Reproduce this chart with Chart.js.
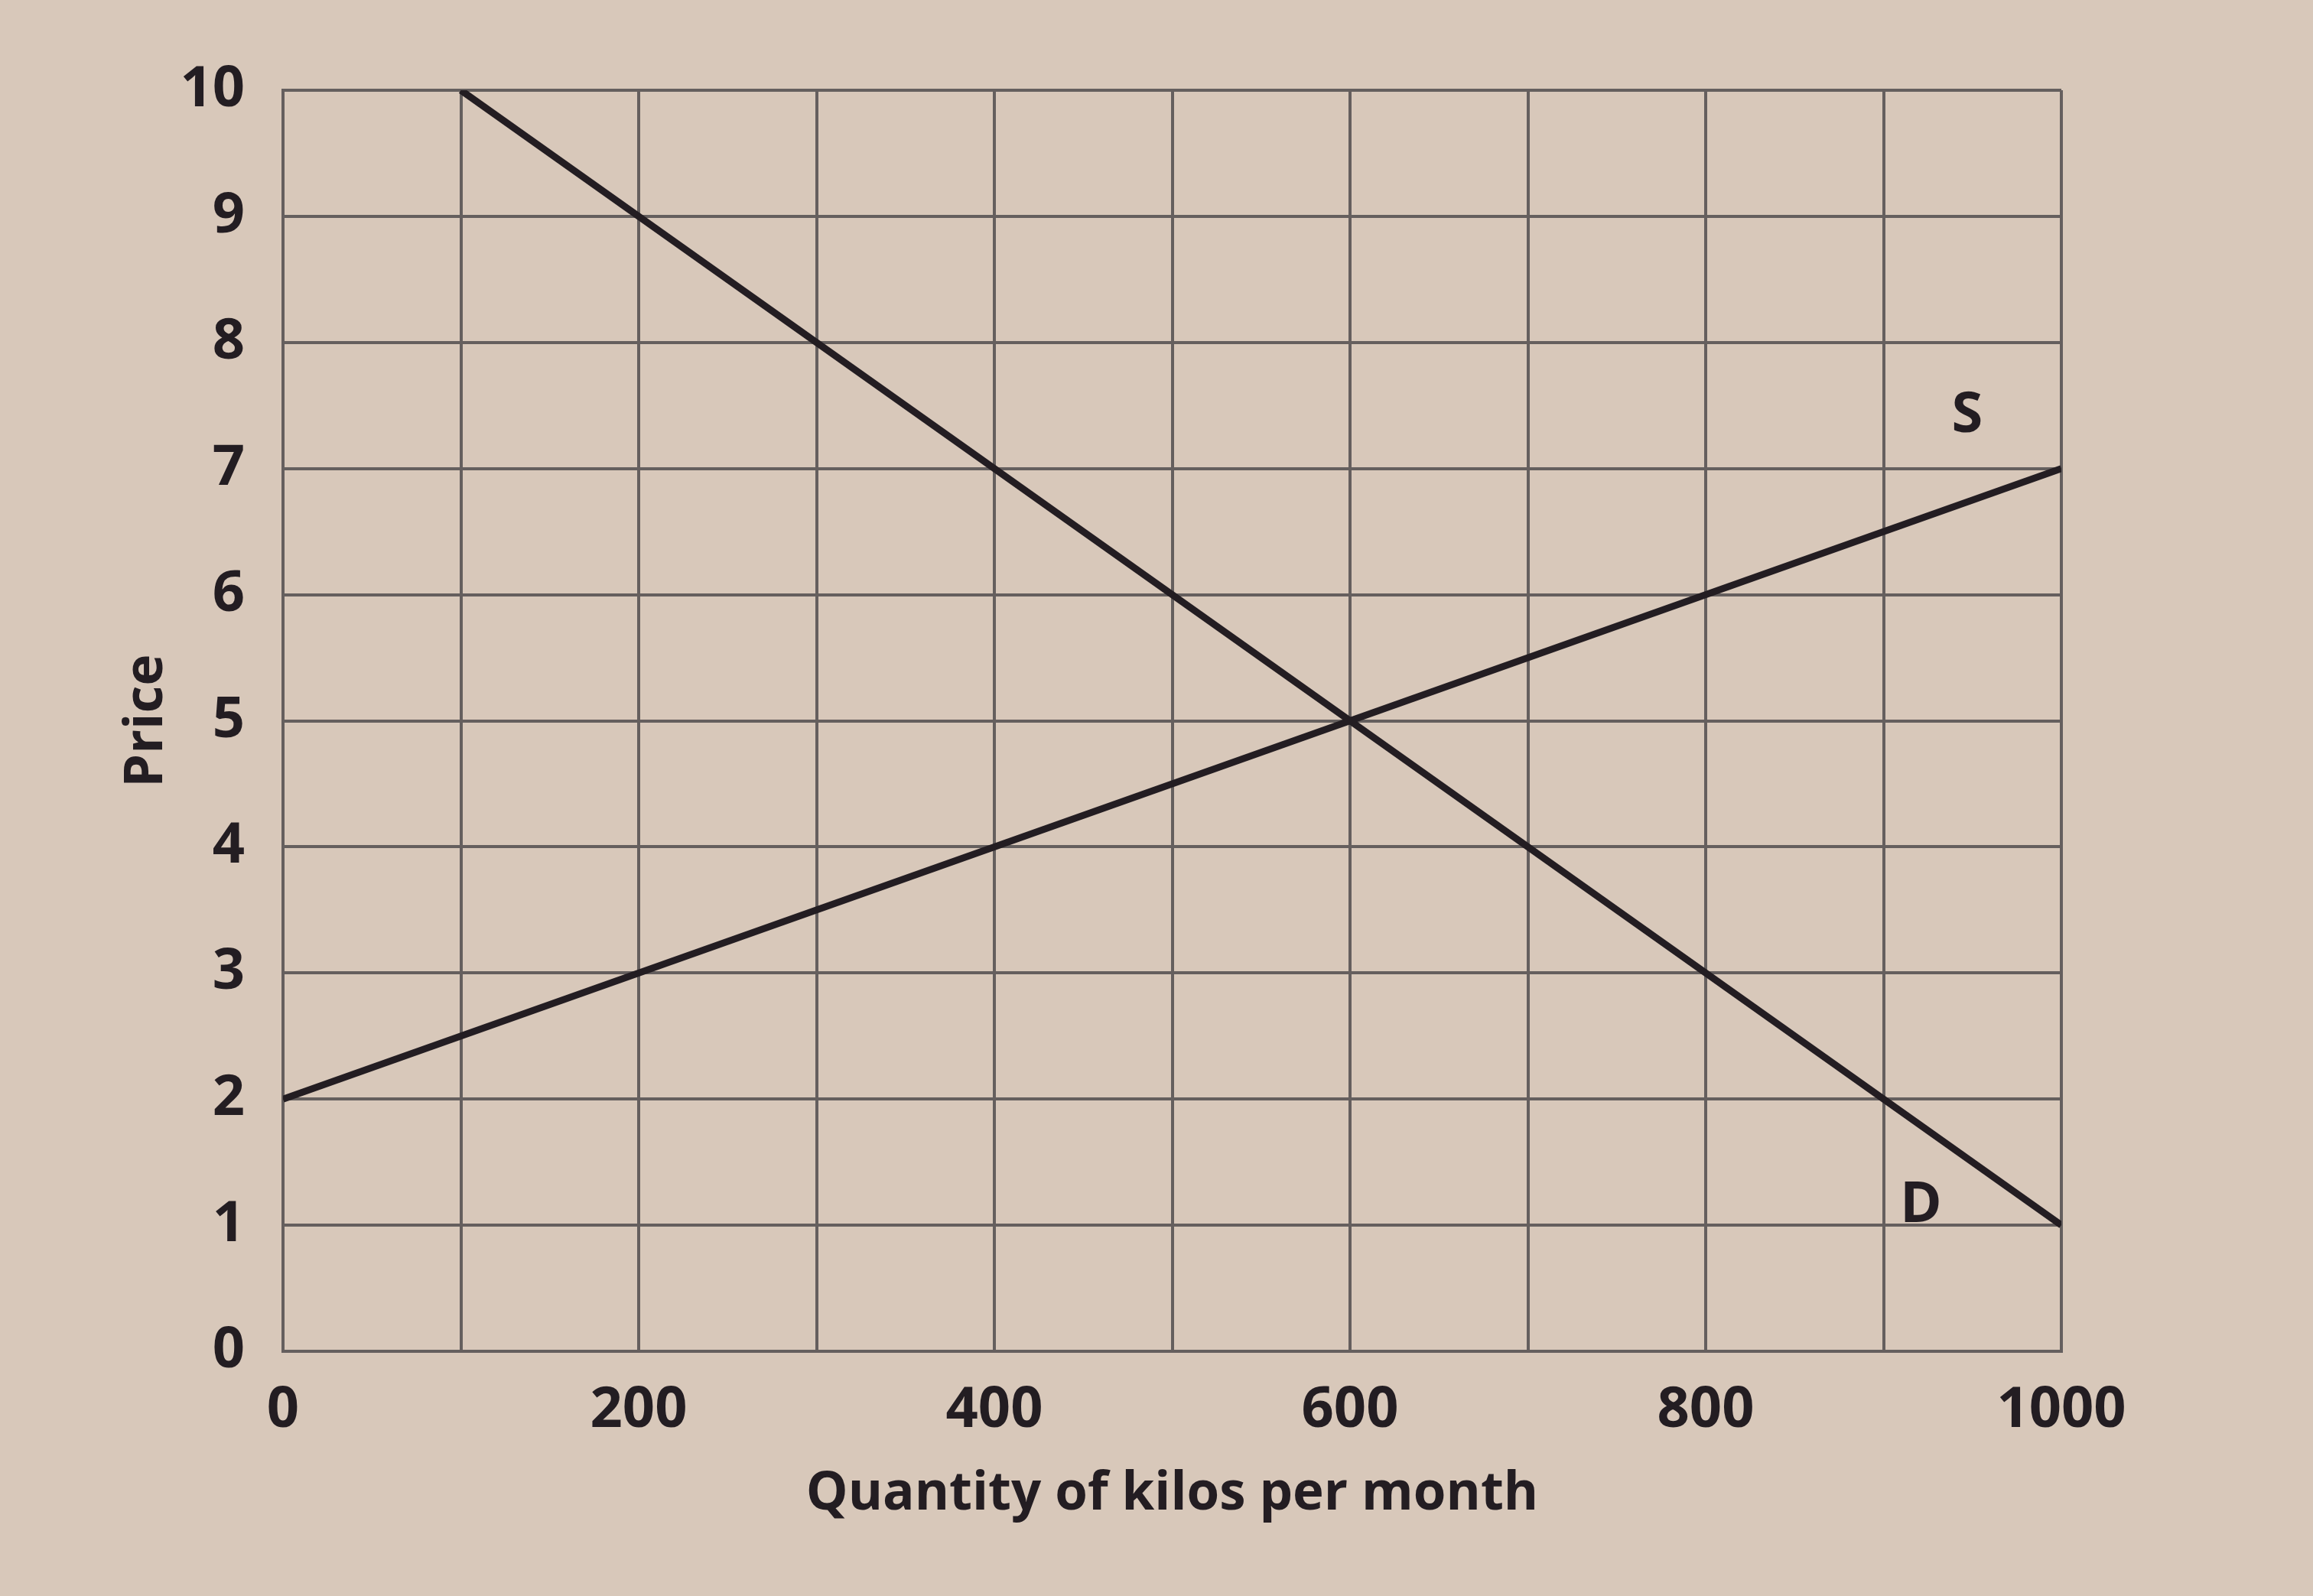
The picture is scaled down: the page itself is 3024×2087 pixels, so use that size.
<!DOCTYPE html>
<html>
<head>
<meta charset="utf-8">
<script src="https://cdn.jsdelivr.net/npm/chart.js@4.4.0/dist/chart.umd.min.js"></script>
<style>
    html, body { margin: 0; padding: 0; background: #d8c8ba; }
    #wrap { width: 3024px; height: 2087px; }
</style>
</head>
<body>
<div id="wrap"><canvas id="priceChart" width="3024" height="2087"></canvas></div>
<script>
// supply / demand points (quantity, price)
var supplyQty = [0, 1000];
var supplyPrice = [2, 7];
var demandQty = [100, 1000];
var demandPrice = [10, 1];

var xTickLabels = ['0', '200', '400', '600', '800', '1000'];
var curveLabels = ['S', 'D'];
var curveLabelQty = [947, 921];
var curveLabelPrice = [7.42, 1.15];

var inkColor = '#231d22';
var gridColor = '#655f5e';

function toPoints(xs, ys) {
    return xs.map(function (x, i) { return { x: x, y: ys[i] } });
}

// paper colour behind everything
var paperPlugin = {
    id: 'paper',
    beforeDraw: function (chart) {
        var ctx = chart.ctx;
        ctx.save();
        ctx.fillStyle = '#d8c8ba';
        ctx.fillRect(0, 0, chart.width, chart.height);
        ctx.restore();
    }
};

// S and D letters next to the lines
var curveLetterPlugin = {
    id: 'curveLetters',
    afterDatasetsDraw: function (chart) {
        var ctx = chart.ctx;
        var xs = chart.scales.x, ys = chart.scales.y;
        ctx.save();
        ctx.fillStyle = inkColor;
        ctx.font = 'bold 74px "Open Sans"';
        ctx.textAlign = 'center';
        ctx.textBaseline = 'middle';
        for (var i = 0; i < curveLabels.length; i++) {
            ctx.fillText(curveLabels[i], xs.getPixelForValue(curveLabelQty[i]), ys.getPixelForValue(curveLabelPrice[i]));
        }
        ctx.restore();
    }
};

var ctx = document.getElementById('priceChart');
var myChart = new Chart(ctx, {
    type: 'scatter',
    data: {
        datasets: [
            {
                label: 'S',
                data: toPoints(supplyQty, supplyPrice),
                showLine: true,
                borderColor: inkColor,
                borderWidth: 9,
                pointRadius: 0,
                fill: false
            },
            {
                label: 'D',
                data: toPoints(demandQty, demandPrice),
                showLine: true,
                borderColor: inkColor,
                borderWidth: 9,
                pointRadius: 0,
                fill: false
            }
        ]
    },
    options: {
        responsive: false,
        animation: false,
        layout: { padding: { left: 0, right: 329, top: 118, bottom: 0 } },
        plugins: {
            legend: { display: false },
            tooltip: { enabled: false }
        },
        scales: {
            x: {
                type: 'linear',
                min: 0,
                max: 1000,
                afterFit: function (scale) { scale.height = 320 },
                ticks: {
                    stepSize: 100,
                    color: inkColor,
                    font: { family: 'Open Sans', size: 74, weight: 'bold' },
                    padding: 34,
                    maxRotation: 0,
                    autoSkip: false,
                    callback: function (v) {
                        var i = xTickLabels.indexOf(String(v));
                        return i >= 0 ? xTickLabels[i] : '';
                    }
                },
                grid: { color: gridColor, lineWidth: 4, drawTicks: false },
                border: { color: gridColor, width: 4 },
                title: {
                    display: true,
                    text: 'Quantity of kilos per month',
                    color: inkColor,
                    font: { family: 'Open Sans', size: 69, weight: 'bold' },
                    padding: { top: 0, bottom: 91 }
                }
            },
            y: {
                type: 'linear',
                min: 0,
                max: 10,
                afterFit: function (scale) { scale.width = 370 },
                ticks: {
                    stepSize: 1,
                    color: inkColor,
                    font: { family: 'Open Sans', size: 74, weight: 'bold' },
                    padding: 50
                },
                grid: { color: gridColor, lineWidth: 4, drawTicks: false },
                border: { color: gridColor, width: 4 },
                title: {
                    display: true,
                    text: 'Price',
                    color: inkColor,
                    font: { family: 'Open Sans', size: 70, weight: 'bold' },
                    padding: { top: 150, bottom: 0 }
                }
            }
        }
    },
    plugins: [paperPlugin, curveLetterPlugin]
});
</script>
</body>
</html>
